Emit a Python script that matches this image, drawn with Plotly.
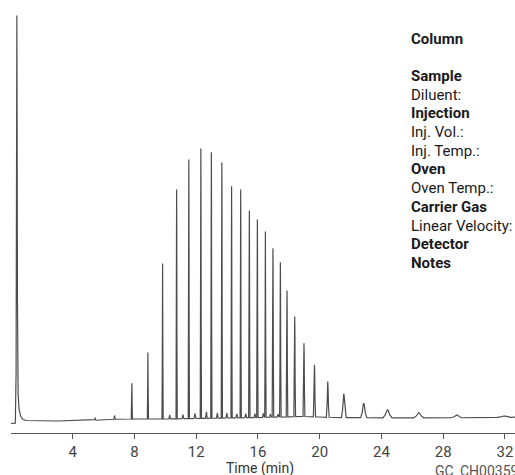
import numpy as np
import plotly.graph_objects as go

# ---- data ----
# solvent front (time in min, detector response in arbitrary units)
solvent_times = [0.00, 0.28, 0.33, 0.38, 0.42, 0.46, 0.52, 0.62, 0.78, 1.00]
solvent_levels = [9.5, 9.8, 60.0, 417.5, 130.0, 40.0, 24.0, 17.0, 13.5, 12.5]

# baseline between peaks
baseline_times = [1.0, 3.0, 5.40, 5.50, 8.0, 10.0, 12.0, 14.0, 16.0, 17.5, 19.0, 20.0, 21.0, 23.5, 27.5, 30.5, 32.65]
baseline_levels = [12.5, 12.0, 12.0, 13.5, 14.0, 14.0, 14.5, 15.0, 15.5, 16.0, 16.5, 16.0, 15.5, 15.2, 15.2, 15.3, 15.8]

# main homologue peaks: retention time, apex response, half base width (min)
peak_times = [6.71, 7.83, 8.87, 9.82, 10.73, 11.52, 12.30, 12.98, 13.66, 14.29,
              14.88, 15.44, 15.96, 16.48, 16.97, 17.45, 17.88, 18.38, 18.98, 19.66,
              20.52, 21.56, 22.85, 24.39, 26.42, 28.88, 31.93]
peak_apex = [17.5, 49.8, 80.5, 169.5, 243.5, 273.5, 284.5, 280.8, 270.5, 246.8,
             243.5, 222.5, 213.5, 201.5, 184.8, 170.8, 142.5, 116.5, 89.8, 68.2,
             51.5, 39.5, 29.8, 23.5, 20.5, 18.0, 17.0]
peak_halfwidth = [0.05, 0.04, 0.04, 0.04, 0.04, 0.04, 0.04, 0.04, 0.04, 0.04,
                  0.04, 0.045, 0.045, 0.045, 0.05, 0.05, 0.05, 0.055, 0.06, 0.07,
                  0.09, 0.15, 0.2, 0.3, 0.32, 0.35, 0.45]

# minor peaks between the main ones
minor_times = [5.45, 10.28, 11.14, 11.92, 12.66, 13.37, 13.98, 14.63, 15.21, 15.80, 16.35, 16.80, 17.30]
minor_heights = [2.0, 4.0, 4.0, 5.0, 6.5, 5.0, 5.0, 4.0, 4.0, 4.0, 4.0, 3.0, 3.0]

tick_values = [4, 8, 12, 16, 20, 24, 28, 32]

info_labels = ["Column", "", "Sample", "Diluent:", "Injection", "Inj. Vol.:", "Inj. Temp.:",
               "Oven", "Oven Temp.:", "Carrier Gas", "Linear Velocity:", "Detector", "Notes"]
info_bold = [True, False, True, False, True, False, False,
             True, False, True, False, True, True]

# ---- build the trace ----
prof_off = [-1.0, -0.5, -0.2, 0.0, 0.2, 0.5, 1.0]
prof_lvl = [0.0, 0.35, 0.85, 1.0, 0.85, 0.35, 0.0]

pts = list(zip(solvent_times, solvent_levels))
spans = []
for t, a, w in zip(peak_times, peak_apex, peak_halfwidth):
    b = float(np.interp(t, baseline_times, baseline_levels))
    spans.append((t - w, t + w))
    for o, f in zip(prof_off, prof_lvl):
        pts.append((t + o * w, b + f * (a - b)))
for t, h in zip(minor_times, minor_heights):
    w = 0.06
    b = float(np.interp(t, baseline_times, baseline_levels))
    spans.append((t - w, t + w))
    for o, f in zip(prof_off, prof_lvl):
        pts.append((t + o * w, b + f * h))
for t, v in zip(baseline_times, baseline_levels):
    if t <= solvent_times[-1]:
        continue
    if any(lo <= t <= hi for lo, hi in spans):
        continue
    pts.append((t, v))
pts.sort(key=lambda p: p[0])
xs = [p[0] for p in pts]
ys = [p[1] for p in pts]

fig = go.Figure()
fig.add_trace(go.Scatter(x=xs, y=ys, mode="lines",
                         line=dict(color="#4d4d4d", width=1.2),
                         hoverinfo="skip", showlegend=False))

W, H = 515, 475
ml, mr, mt, mb = 11, 0, 10, 42
pw, ph = W - ml - mr, H - mt - mb

annotations = []
for i, (lab, bold) in enumerate(zip(info_labels, info_bold)):
    if not lab:
        continue
    ypx = 38.5 + i * 18.7
    annotations.append(dict(
        text=f"<b>{lab}</b>" if bold else lab,
        xref="paper", yref="paper",
        x=(409 - ml) / pw, y=1 - (ypx - mt) / ph,
        xanchor="left", yanchor="middle", showarrow=False,
        font=dict(family="Roboto", size=15, color="#1a1a1a")))
annotations.append(dict(
    text="Time (min)", xref="paper", yref="paper",
    x=(260 - ml) / pw, y=1 - (468 - mt) / ph,
    xanchor="center", yanchor="middle", showarrow=False,
    font=dict(family="Roboto", size=14, color="#333333")))
annotations.append(dict(
    text="GC_CH00359", xref="paper", yref="paper",
    x=(433 - ml) / pw, y=1 - (471 - mt) / ph,
    xanchor="left", yanchor="middle", showarrow=False,
    font=dict(family="Roboto", size=14, color="#555555")))

fig.update_layout(
    width=W, height=H, autosize=False,
    margin=dict(l=ml, r=mr, t=mt, b=mb, pad=0),
    paper_bgcolor="white", plot_bgcolor="white",
    font=dict(family="Roboto", size=14, color="#444444"),
    annotations=annotations,
    xaxis=dict(range=[0, 32.65], tickvals=tick_values, ticktext=[str(v) for v in tick_values],
               showline=True, linecolor="#555555", linewidth=1,
               ticks="outside", ticklen=5, tickcolor="#555555", tickwidth=1,
               showgrid=False, zeroline=False,
               tickfont=dict(family="Roboto", size=15, color="#444444")),
    yaxis=dict(range=[0, ph], visible=False, showgrid=False, zeroline=False),
)

fig.write_html("out.html", config={"displayModeBar": False},
               post_script="document.body.style.margin='0';")
